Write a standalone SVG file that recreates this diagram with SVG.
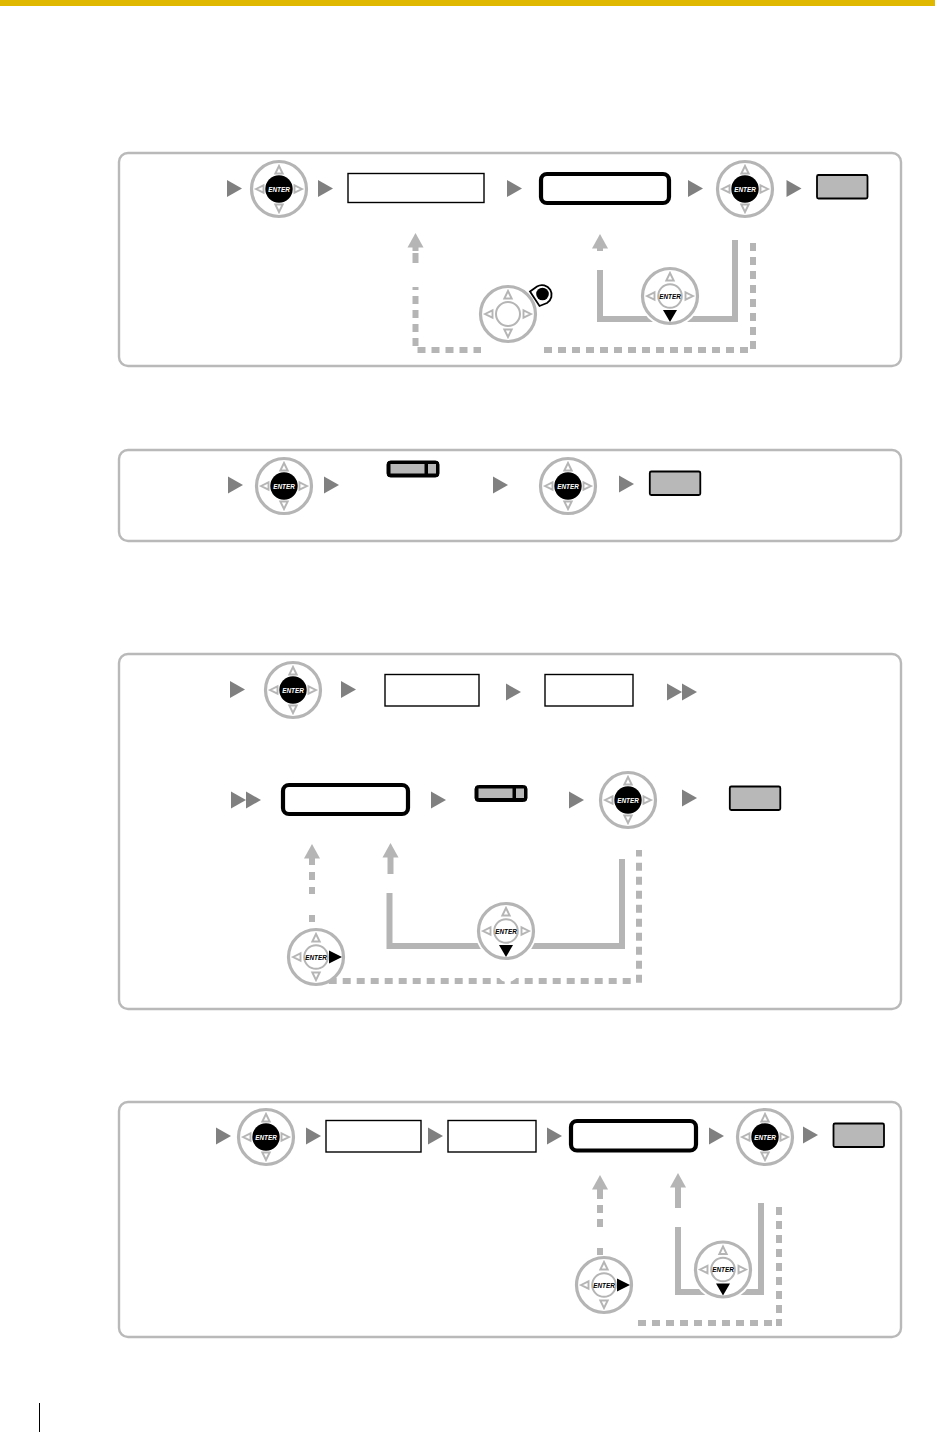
<svg xmlns="http://www.w3.org/2000/svg" xmlns:xlink="http://www.w3.org/1999/xlink" width="935" height="1432" viewBox="0 0 935 1432">
<style>
.panel{fill:#fff;stroke:#b9b9b9;stroke-width:2.4}
.ring{fill:#fff;stroke:#b5b5b5;stroke-width:3.2}
.tri{fill:#fff;stroke:#b5b5b5;stroke-width:1.9;stroke-linejoin:miter}
.hubk{fill:#000}
.hubw{fill:#fff;stroke:#b5b5b5;stroke-width:2}
.ent{font-family:"Liberation Sans",Arial,sans-serif;font-size:6.4px;font-weight:700;font-style:italic;text-anchor:middle}
.ew{fill:#fff}.eb{fill:#000}
.box{fill:#fff;stroke:#000;stroke-width:1.4}
.bold{fill:#fff;stroke:#000;stroke-width:4.2}
.key{fill:#b8b8b8;stroke:#000;stroke-width:1.8}
.go{fill:#808080}
.solid{fill:none;stroke:#b5b5b5;stroke-width:6}
.dash{fill:none;stroke:#b5b5b5;stroke-width:6;stroke-dasharray:8 6}
.head{fill:#b5b5b5}
</style>
<defs>
<polygon id="go" class="go" points="0,-8.5 15,0 0,8.5"/>
<g id="go2"><use href="#go" x="0"/><use href="#go" x="15"/></g>
<polygon id="up" class="head" points="0,0 8,14.5 -8,14.5"/>
<polygon id="tu" class="tri" points="0,-23 3.700,-15.500 -3.700,-15.500"/>
<polygon id="td" class="tri" points="0,23 3.700,15.500 -3.700,15.500"/>
<polygon id="tl" class="tri" points="-23,0 -15.500,-3.700 -15.500,3.700"/>
<polygon id="tr" class="tri" points="23,0 15.500,-3.700 15.500,3.700"/>
<g id="base"><circle class="ring" r="27.5"/><use href="#tu"/><use href="#tl"/></g>
<g id="dial"><use href="#base"/><use href="#td"/><use href="#tr"/><circle class="hubk" r="13.7"/></g>
<g id="dialDown"><circle r="31" fill="#fff"/><use href="#base"/><use href="#tr"/><circle class="hubw" r="11.8"/><polygon fill="#000" points="-7,14 7,14 0,26"/></g>
<g id="dialRight"><use href="#base"/><use href="#td"/><circle class="hubw" r="11.8"/><polygon fill="#000" points="13,-6.500 26,0 13,6.500"/></g>
<g id="small"><rect width="52" height="16" rx="3.500" fill="#000" stroke="#000"/><rect x="3.500" y="3" width="34" height="9.500" fill="#b8b8b8"/><rect x="41" y="3" width="8" height="9.500" fill="#b8b8b8"/></g>
</defs>
<rect id="topbar" x="0" y="0" width="935" height="6" fill="#e0b800"/>
<line id="footer" x1="39.500" y1="1403" x2="39.500" y2="1432" stroke="#000" stroke-width="1"/>

<rect id="panel1" class="panel" x="119" y="153" width="782" height="213" rx="9"/>
<rect id="panel2" class="panel" x="119" y="450" width="782" height="91" rx="9"/>
<rect id="panel3" class="panel" x="119" y="654" width="782" height="355" rx="9"/>
<rect id="panel4" class="panel" x="119" y="1102" width="782" height="235" rx="9"/>

<g id="connectors">
<use href="#go" x="227" y="188.500"/><use href="#go" x="318" y="188.500"/><use href="#go" x="507" y="188.500"/><use href="#go" x="688" y="188.500"/><use href="#go" x="786.500" y="188.500"/>
<use href="#up" x="415.500" y="233"/>
<path class="solid" d="M415.500 247V251"/>
<path class="solid" d="M415.500 253V263"/>
<path class="solid" d="M415.500 287V290"/>
<path class="dash" d="M415.500 296V350H481"/>
<path class="dash" d="M544 350H753V243"/>
<use href="#up" x="600" y="234"/>
<path class="solid" d="M600 248V251"/>
<path class="solid" d="M600 270V319H735V240"/>

<use href="#go" x="228" y="485"/><use href="#go" x="324" y="485"/><use href="#go" x="493" y="485"/><use href="#go" x="619" y="484"/>

<use href="#go" x="230" y="689.500"/><use href="#go" x="341" y="689.500"/><use href="#go" x="506" y="692"/><use href="#go2" x="667" y="692"/>
<use href="#go2" x="231" y="800"/><use href="#go" x="431" y="800"/><use href="#go" x="569" y="800"/><use href="#go" x="682" y="798"/>
<use href="#up" x="312" y="844"/>
<path class="solid" d="M312 858V865"/>
<path class="solid" d="M312 872V880"/><path class="solid" d="M312 887V894"/><path class="solid" d="M312 915V922"/>
<use href="#up" x="390.500" y="843"/>
<path class="solid" d="M390.500 857V874"/>
<path class="solid" d="M389.500 893V946H622V859"/>
<path class="dash" d="M328.700 981H636"/>
<path class="solid" d="M639 850V856.500"/>
<path class="dash" d="M639 862.700V984"/>
<circle cx="507.700" cy="971" r="11" fill="#fff"/>

<use href="#go" x="216" y="1136"/><use href="#go" x="306" y="1136"/><use href="#go" x="428" y="1136"/><use href="#go" x="547" y="1136"/><use href="#go" x="709" y="1136"/><use href="#go" x="803" y="1135"/>
<use href="#up" x="600" y="1175"/>
<path class="solid" d="M600 1189V1199"/><path class="solid" d="M600 1205V1213"/><path class="solid" d="M600 1219V1227"/><path class="solid" d="M600 1248V1255"/>
<use href="#up" x="678" y="1173"/>
<path class="solid" d="M678 1187V1208"/>
<path class="solid" d="M678 1227V1292H761V1203"/>
<path class="dash" d="M638 1323H776"/>
<path class="dash" d="M779 1207V1326"/>
</g>

<g id="n1-dial1" transform="translate(279,189)"><use href="#dial"/><text class="ent ew" y="2.500">ENTER</text></g>
<g id="n1-box1"><rect class="box" x="348" y="173.500" width="136" height="29"/></g>
<g id="n1-bold"><rect class="bold" x="541" y="174" width="128" height="29" rx="6"/></g>
<g id="n1-dial2" transform="translate(745,189)"><use href="#dial"/><text class="ent ew" y="2.500">ENTER</text></g>
<g id="n1-key"><rect class="key" x="817" y="175" width="50.500" height="23.500" rx="1.500"/></g>
<g id="n1-dial3" transform="translate(508,314)"><use href="#base"/><use href="#td"/><use href="#tr"/><circle class="hubw" r="12"/></g>
<g id="n1-button"><path d="M530 291.500L537 286.500A9.500 9.500 0 1 1 547 303L539.500 306Z" fill="#fff" stroke="#000" stroke-width="1.800"/><circle cx="542.500" cy="294" r="6.300" fill="#000"/></g>
<g id="n1-dial4" transform="translate(670,296)"><use href="#dialDown"/><text class="ent eb" y="2.500">ENTER</text></g>

<g id="n2-dial1" transform="translate(284,486)"><use href="#dial"/><text class="ent ew" y="2.500">ENTER</text></g>
<g id="n2-small"><use href="#small" x="387" y="461"/></g>
<g id="n2-dial2" transform="translate(568,486)"><use href="#dial"/><text class="ent ew" y="2.500">ENTER</text></g>
<g id="n2-key"><rect class="key" x="649.800" y="471.500" width="50.500" height="23.500" rx="1.500"/></g>

<g id="n3-dial1" transform="translate(293,690)"><use href="#dial"/><text class="ent ew" y="2.500">ENTER</text></g>
<g id="n3-box1"><rect class="box" x="385" y="674.500" width="94" height="31.500"/></g>
<g id="n3-box2"><rect class="box" x="545" y="674.500" width="88" height="31.500"/></g>
<g id="n3-bold"><rect class="bold" x="283" y="785" width="125" height="29" rx="6"/></g>
<g id="n3-small"><use href="#small" x="475" y="785.500"/></g>
<g id="n3-dial2" transform="translate(628,800)"><use href="#dial"/><text class="ent ew" y="2.500">ENTER</text></g>
<g id="n3-key"><rect class="key" x="729.800" y="786.500" width="50.500" height="23.500" rx="1.500"/></g>
<g id="n3-dial3" transform="translate(506,931)"><use href="#dialDown"/><text class="ent eb" y="2.500">ENTER</text></g>
<g id="n3-dial4" transform="translate(316,957)"><use href="#dialRight"/><text class="ent eb" y="2.500">ENTER</text></g>

<g id="n4-dial1" transform="translate(266,1137)"><use href="#dial"/><text class="ent ew" y="2.500">ENTER</text></g>
<g id="n4-box1"><rect class="box" x="326" y="1120.500" width="95" height="31.500"/></g>
<g id="n4-box2"><rect class="box" x="448" y="1120.500" width="88" height="31.500"/></g>
<g id="n4-bold"><rect class="bold" x="571" y="1121" width="125" height="29.500" rx="6"/></g>
<g id="n4-dial2" transform="translate(765,1137)"><use href="#dial"/><text class="ent ew" y="2.500">ENTER</text></g>
<g id="n4-key"><rect class="key" x="833.500" y="1123.500" width="50.500" height="23.500" rx="1.500"/></g>
<g id="n4-dial3" transform="translate(723,1269.500)"><use href="#dialDown"/><text class="ent eb" y="2.500">ENTER</text></g>
<g id="n4-dial4" transform="translate(604,1285)"><use href="#dialRight"/><text class="ent eb" y="2.500">ENTER</text></g>
</svg>
